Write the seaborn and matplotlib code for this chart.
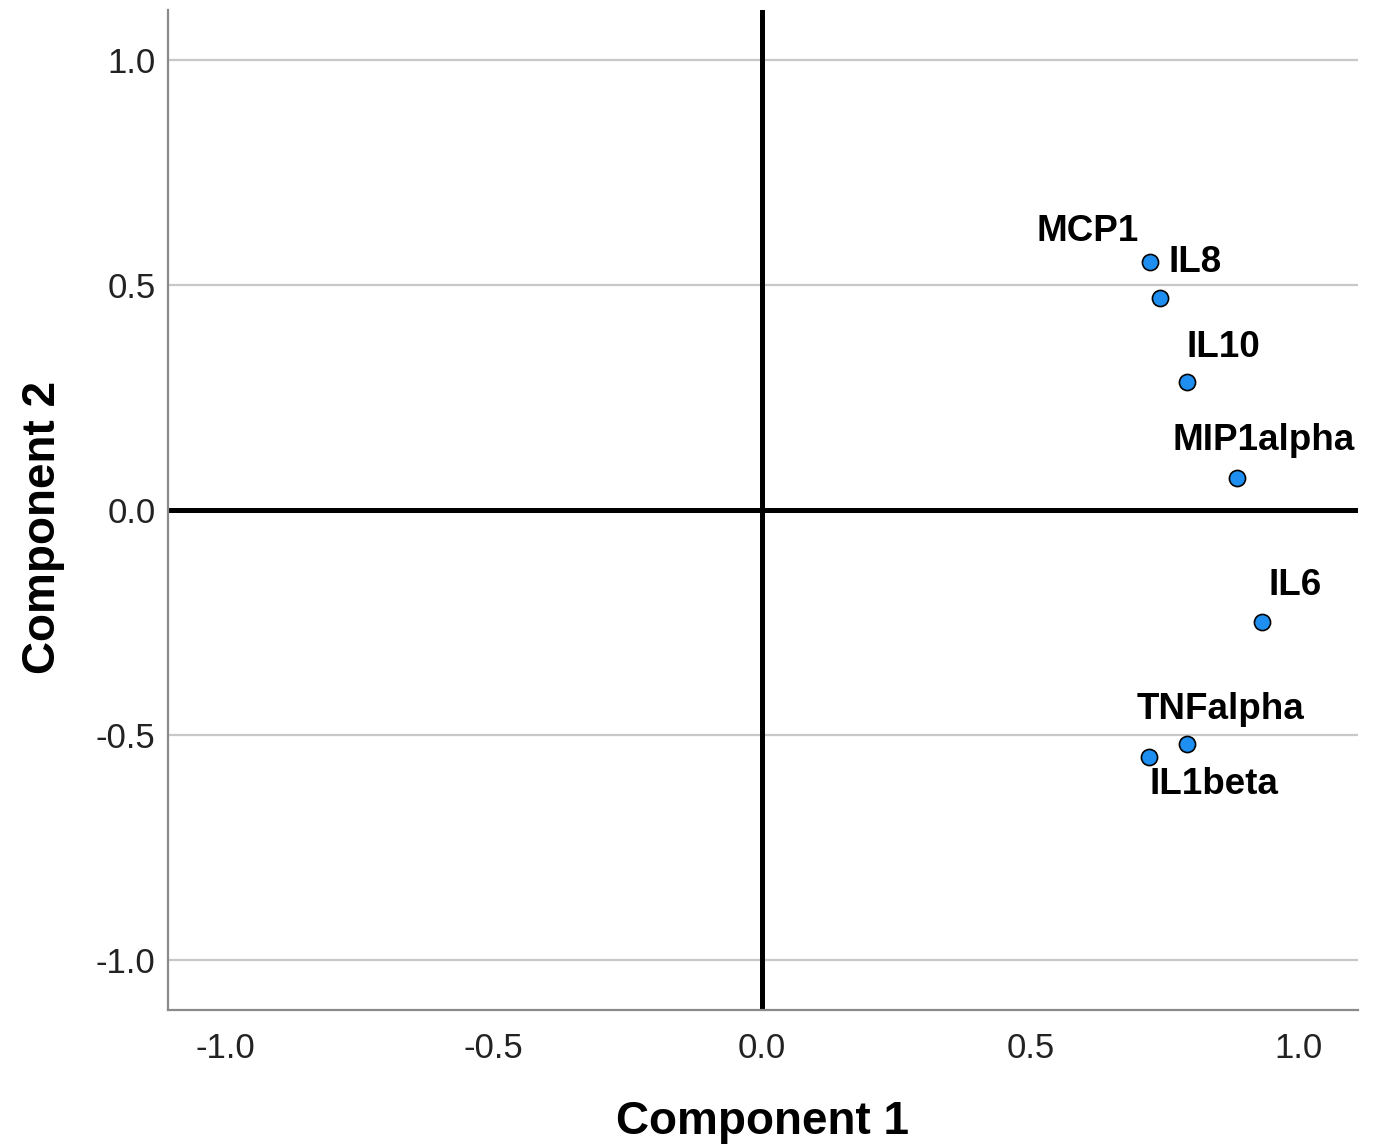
import matplotlib
matplotlib.use("Agg")
import matplotlib.pyplot as plt
import seaborn as sns
import pandas as pd

# component loadings
variables = ['MCP1', 'IL8', 'IL10', 'MIP1alpha', 'IL6', 'TNFalpha', 'IL1beta']
comp1 = [0.722, 0.742, 0.792, 0.885, 0.931, 0.792, 0.720]
comp2 = [0.552, 0.470, 0.285, 0.070, -0.248, -0.521, -0.548]
ticks = [-1.0, -0.5, 0.0, 0.5, 1.0]
tick_labels = ['-1.0', '-0.5', '0.0', '0.5', '1.0']

# label offsets (points) from each marker, just styling
label_offset = {
    'MCP1': (-45, 22), 'IL8': (25, 26), 'IL10': (26, 25), 'MIP1alpha': (19, 27),
    'IL6': (24, 26), 'TNFalpha': (24, 25), 'IL1beta': (47, -20),
}

df = pd.DataFrame({'var': variables, 'c1': comp1, 'c2': comp2})

sns.set_style("white")
plt.rcParams['font.family'] = ['Liberation Sans', 'DejaVu Sans']

fig = plt.figure(figsize=(13.76, 11.48), dpi=100)
ax = fig.add_axes([168/1376, 1 - 1010/1148, (1358-168)/1376, 1000/1148])

# grid and zero lines
for t in ticks:
    ax.axhline(t, color='#c8c8c8', lw=1.6, zorder=0)
ax.axhline(0, color='black', lw=3.6, zorder=1)
ax.axvline(0, color='black', lw=3.6, zorder=1)

sns.scatterplot(data=df, x='c1', y='c2', ax=ax, color='#1e8ff0', edgecolor='black',
                linewidth=1.2, s=135, zorder=3)

for name, x, y in zip(variables, comp1, comp2):
    ax.annotate(name, (x, y), xytext=label_offset[name], textcoords='offset points',
                ha='center', va='center', fontsize=26.5, fontweight='bold', color='black')

ax.set_xlim(-1.106, 1.110)
ax.set_ylim(-1.111, 1.111)
ax.set_xticks(ticks)
ax.set_xticklabels(tick_labels)
ax.set_yticks(ticks)
ax.set_yticklabels(tick_labels)
ax.tick_params(axis='both', length=0, labelsize=25, labelcolor='#222222')
ax.tick_params(axis='x', pad=16)
ax.tick_params(axis='y', pad=9)

for side in ['top', 'right']:
    ax.spines[side].set_visible(False)
for side in ['left', 'bottom']:
    ax.spines[side].set_color('#8a8a8a')
    ax.spines[side].set_linewidth(1.6)

ax.set_xlabel('Component 1', fontsize=33, fontweight='bold', labelpad=25, color='black')
ax.set_ylabel('Component 2', fontsize=33, fontweight='bold', labelpad=22, color='black')
ax.yaxis.label.set_y(0.483)

fig.savefig('out.png', dpi=100)
